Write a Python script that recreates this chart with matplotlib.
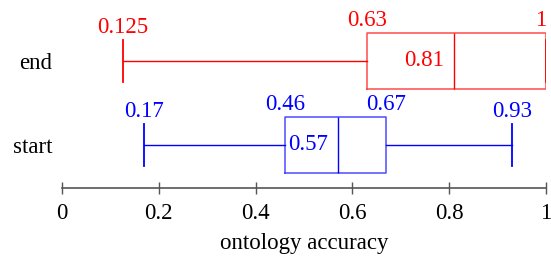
import matplotlib
matplotlib.use("Agg")
import matplotlib.pyplot as plt

plt.rcParams['font.family'] = ['Liberation Serif', 'DejaVu Serif']

categories = ["start", "end"]
colors = ["#0000ff", "#ff0000"]
whislo = [0.17, 0.125]
q1 = [0.46, 0.63]
med = [0.57, 0.81]
q3 = [0.67, 1.0]
whishi = [0.93, 1.0]
lo_labels = ["0.17", "0.125"]
q1_labels = ["0.46", "0.63"]
med_labels = ["0.57", "0.81"]
q3_labels = ["0.67", "1"]
hi_labels = ["0.93", None]
xticks = [0, 0.2, 0.4, 0.6, 0.8, 1]
xticklabels = ["0", "0.2", "0.4", "0.6", "0.8", "1"]

W, H = 551, 257
fig = plt.figure(figsize=(W / 100, H / 100), dpi=100)
ax = fig.add_axes([62 / W, (H - 188) / H, (546 - 62) / W, 188 / H])

FS = 16.5
positions = [1, 2]
for i, cat in enumerate(categories):
    c = colors[i]
    stats = [dict(whislo=whislo[i], q1=q1[i], med=med[i], q3=q3[i], whishi=whishi[i], fliers=[])]
    ax.bxp(stats, positions=[positions[i]], widths=0.667, capwidths=0.51,
           orientation='horizontal', showfliers=False, manage_ticks=False,
           boxprops=dict(color=c, alpha=0.7, lw=1.1),
           medianprops=dict(color=c, lw=1),
           whiskerprops=dict(color=c, lw=1),
           capprops=dict(color=c, lw=1.3))
    y = positions[i]
    box_top = y + 0.667 / 2
    cap_top = y + 0.51 / 2
    ax.annotate(lo_labels[i], (whislo[i], cap_top), xytext=(0, 5), textcoords='offset points',
                ha='center', va='baseline', color=c, fontsize=FS, annotation_clip=False)
    ax.annotate(q1_labels[i], (q1[i], box_top), xytext=(0, 5), textcoords='offset points',
                ha='center', va='baseline', color=c, fontsize=FS, annotation_clip=False)
    ha_q3 = 'right' if q3[i] >= 1 else 'center'
    ax.annotate(q3_labels[i], (q3[i], box_top), xytext=(0, 5), textcoords='offset points',
                ha=ha_q3, va='baseline', color=c, fontsize=FS, annotation_clip=False)
    if hi_labels[i]:
        ax.annotate(hi_labels[i], (whishi[i], cap_top), xytext=(0, 5), textcoords='offset points',
                    ha='center', va='baseline', color=c, fontsize=FS, annotation_clip=False)
    ax.annotate(med_labels[i], (med[i], y), xytext=(-7, 0), textcoords='offset points',
                ha='right', va='center', color=c, fontsize=FS, annotation_clip=False)

ax.set_xlim(0, 1)
ax.set_ylim(0.488, 2.726)
ax.set_yticks(positions)
ax.set_yticklabels(categories, fontsize=FS)
ax.tick_params(axis='y', length=0, pad=7)
ax.set_xticks(xticks)
ax.set_xticklabels(xticklabels, fontsize=FS)
ax.tick_params(axis='x', direction='inout', length=9, width=1, colors='#555555',
               labelcolor='black', pad=6)
for s in ['left', 'right', 'top']:
    ax.spines[s].set_visible(False)
ax.spines['bottom'].set_color('#555555')
ax.spines['bottom'].set_linewidth(1.2)
ax.set_xlabel("ontology accuracy", fontsize=FS, labelpad=7)
ax.patch.set_visible(False)

fig.savefig("out.png", dpi=100)
